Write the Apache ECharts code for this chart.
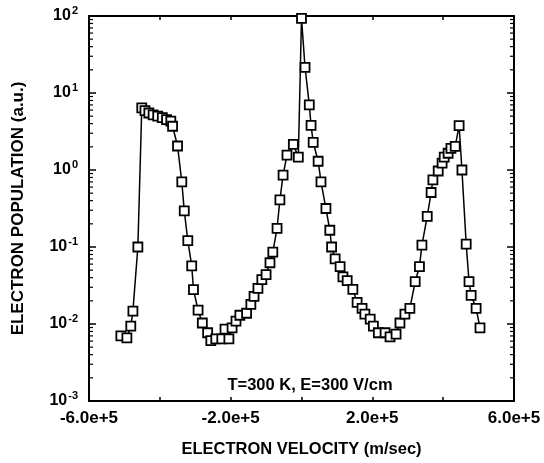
<!DOCTYPE html>
<html>
<head>
<meta charset="utf-8">
<script src="https://cdn.jsdelivr.net/npm/echarts@6/dist/echarts.min.js"></script>
<style>
html,body{margin:0;padding:0;background:#fff;}
#chart{width:544px;height:463px;}
</style>
</head>
<body>
<div id="chart"></div>
<script>
// Electron velocity (m/sec)
const velocity = [
  -5.10e5, -4.93e5, -4.82e5, -4.76e5, -4.62e5, -4.51e5, -4.42e5, -4.31e5, -4.19e5, -4.06e5,
  -3.93e5, -3.81e5, -3.69e5, -3.64e5, -3.50e5, -3.38e5, -3.31e5, -3.21e5, -3.10e5, -3.05e5,
  -2.92e5, -2.80e5, -2.65e5, -2.56e5, -2.42e5, -2.25e5, -2.16e5, -2.05e5, -1.96e5, -1.85e5,
  -1.74e5, -1.55e5, -1.43e5, -1.34e5, -1.23e5, -1.12e5, -1.00e5, -0.89e5, -0.81e5, -0.69e5,
  -0.61e5, -0.52e5, -0.41e5, -0.23e5, -0.09e5, 0.00e5, 0.10e5, 0.22e5, 0.27e5, 0.33e5,
  0.47e5, 0.55e5, 0.69e5, 0.80e5, 0.85e5, 0.95e5, 1.09e5, 1.17e5, 1.29e5, 1.45e5,
  1.57e5, 1.71e5, 1.79e5, 1.94e5, 2.03e5, 2.17e5, 2.36e5, 2.50e5, 2.67e5, 2.78e5,
  2.92e5, 3.06e5, 3.21e5, 3.33e5, 3.40e5, 3.55e5, 3.66e5, 3.71e5, 3.86e5, 3.97e5,
  4.03e5, 4.14e5, 4.22e5, 4.34e5, 4.45e5, 4.53e5, 4.65e5, 4.73e5, 4.79e5, 4.93e5,
  5.04e5
];
// Electron population (a.u.)
const population = [
  0.0070, 0.0066, 0.0094, 0.0147, 0.100, 6.4, 5.9, 5.5, 5.2, 5.0,
  4.8, 4.5, 4.3, 3.7, 2.05, 0.70, 0.295, 0.121, 0.057, 0.028,
  0.0151, 0.0103, 0.0077, 0.0061, 0.0064, 0.0064, 0.0086, 0.0064, 0.0089, 0.0109,
  0.0130, 0.0138, 0.018, 0.0229, 0.029, 0.0378, 0.0438, 0.0624, 0.086, 0.175,
  0.41, 0.86, 1.56, 2.15, 1.47, 93, 21.5, 7.0, 3.8, 2.29,
  1.30, 0.70, 0.316, 0.165, 0.100, 0.070, 0.0555, 0.041, 0.0366, 0.0281,
  0.0191, 0.016, 0.0134, 0.0116, 0.0094, 0.0077, 0.0077, 0.0068, 0.0074, 0.0103,
  0.0134, 0.016, 0.0356, 0.0555, 0.106, 0.25, 0.51, 0.745, 0.97, 1.23,
  1.47, 1.65, 1.91, 2.03, 3.78, 1.0, 0.109, 0.0356, 0.0236, 0.016,
  0.0089
];
const xTickValues = [-6e5, -4e5, -2e5, 0, 2e5, 4e5, 6e5];
const xLabelValues = [-6e5, -2e5, 2e5, 6e5];
const yDecades = [-3, -2, -1, 0, 1, 2];
const minorMultipliers = [2, 3, 4, 5, 6, 7, 8, 9];
const annotation = 'T=300 K, E=300 V/cm';
const xTitle = 'ELECTRON VELOCITY (m/sec)';
const yTitle = 'ELECTRON POPULATION (a.u.)';

const minorTickValues = [];
for (let i = 0; i < yDecades.length - 1; i++) {
  minorMultipliers.forEach(m => minorTickValues.push(m * Math.pow(10, yDecades[i])));
}
const pts = velocity.map((v, i) => [v, population[i]]);

const FONT = 'Liberation Sans';
const chart = echarts.init(document.getElementById('chart'), null, {renderer: 'canvas'});

const axisLineStyle = {show: true, onZero: false, lineStyle: {color: '#000', width: 2}};
const option = {
  backgroundColor: '#fff',
  animation: false,
  grid: {left: 89, right: 30, top: 16, bottom: 57, containLabel: false},
  title: {
    text: annotation,
    left: 305, top: 372, textAlign: 'center',
    textStyle: {fontFamily: FONT, fontSize: 16.5, fontWeight: 'bold', color: '#000'}
  },
  xAxis: [{
    type: 'value', min: -6e5, max: 6e5, interval: 2e5,
    axisLine: axisLineStyle,
    axisTick: {show: true, inside: true, length: 4, lineStyle: {color: '#000', width: 1.5}},
    splitLine: {show: false},
    axisLabel: {
      color: '#000', fontFamily: FONT, fontWeight: 'bold', fontSize: 17, margin: 9,
      formatter: v => xLabelValues.some(t => Math.abs(t - v) < 1) ? (v / 1e5).toFixed(1) + 'e+5' : ''
    },
    name: xTitle, nameLocation: 'middle', nameGap: 40,
    nameTextStyle: {color: '#000', fontFamily: FONT, fontWeight: 'bold', fontSize: 16.5}
  }, {
    type: 'value', position: 'top', min: -6e5, max: 6e5, interval: 2e5,
    axisLine: axisLineStyle,
    axisTick: {show: true, inside: true, length: 4, lineStyle: {color: '#000', width: 1.5}},
    axisLabel: {show: false}, splitLine: {show: false}
  }],
  yAxis: [{
    type: 'log', logBase: 10, min: 1e-3, max: 1e2,
    axisLine: axisLineStyle,
    axisTick: {show: true, inside: true, length: 7, lineStyle: {color: '#000', width: 1.5}},
    splitLine: {show: false},
    minorTick: {show: false},
    axisLabel: {
      margin: 11,
      formatter: v => '{b|10}{s|' + Math.round(Math.log10(v)) + '}',
      rich: {
        b: {fontFamily: FONT, fontWeight: 'bold', fontSize: 16, color: '#000'},
        s: {fontFamily: FONT, fontWeight: 'bold', fontSize: 11, color: '#000', padding: [0, 0, 10, 1]}
      }
    },
    name: yTitle, nameLocation: 'middle', nameGap: 62,
    nameTextStyle: {color: '#000', fontFamily: FONT, fontWeight: 'bold', fontSize: 17}
  }, {
    type: 'log', logBase: 10, min: 1e-3, max: 1e2, position: 'right',
    axisLine: axisLineStyle,
    axisTick: {show: true, inside: true, length: 7, lineStyle: {color: '#000', width: 1.5}},
    axisLabel: {show: false}, splitLine: {show: false}
  }],
  series: [{
    type: 'custom',
    silent: true,
    clip: false,
    xAxisIndex: 0, yAxisIndex: 0,
    data: minorTickValues.map(v => [-6e5, v]),
    renderItem: function (params, api) {
      const val = api.value(1);
      const pl = api.coord([-6e5, val]);
      const pr = api.coord([6e5, val]);
      return {
        type: 'group',
        children: [
          {type: 'line', shape: {x1: pl[0], y1: pl[1], x2: pl[0] + 4, y2: pl[1]}, style: {stroke: '#000', lineWidth: 1.2}},
          {type: 'line', shape: {x1: pr[0], y1: pr[1], x2: pr[0] - 4, y2: pr[1]}, style: {stroke: '#000', lineWidth: 1.2}}
        ]
      };
    }
  }, {
    type: 'line',
    data: pts,
    xAxisIndex: 0, yAxisIndex: 0,
    symbol: 'rect',
    symbolSize: 9,
    showAllSymbol: true,
    lineStyle: {color: '#000', width: 1.5},
    itemStyle: {color: '#fff', borderColor: '#000', borderWidth: 1.8},
    z: 3
  }]
};
chart.setOption(option);
</script>
</body>
</html>
